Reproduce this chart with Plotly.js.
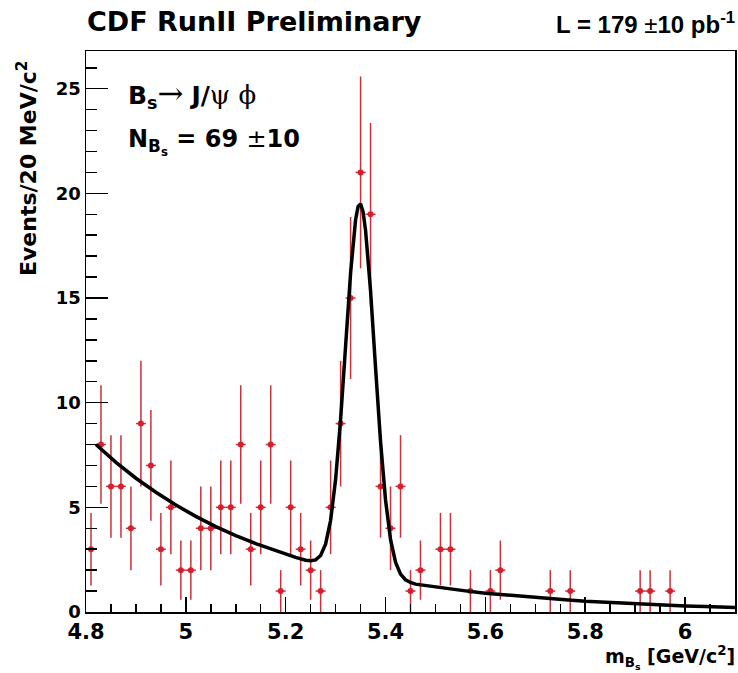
<!DOCTYPE html>
<html>
<head>
<meta charset="utf-8">
<script src="https://cdn.plot.ly/plotly-3.0.1.min.js"></script>
<style>html,body{margin:0;padding:0;background:#fff;}#chart{width:738px;height:673px;}</style>
</head>
<body>
<div id="chart"></div>
<script>
// Histogram bins (20 MeV), non-empty bins only
const binCenters = [4.81,4.83,4.85,4.87,4.89,4.91,4.93,4.95,4.97,4.99,5.01,5.03,5.05,5.07,5.09,5.11,5.13,5.15,5.17,5.19,5.21,5.23,5.25,5.27,5.29,5.31,5.33,5.35,5.37,5.39,5.41,5.43,5.45,5.47,5.51,5.53,5.57,5.61,5.63,5.73,5.77,5.91,5.93,5.97];
const counts     = [3,8,6,6,4,9,7,3,5,2,2,4,4,5,5,8,3,5,8,1,5,3,2,1,5,9,15,21,19,6,4,6,1,2,3,3,1,1,2,1,1,1,1,1];

// Fit curve
const fitX = [4.82,4.86,4.90,4.94,4.98,5.02,5.06,5.10,5.14,5.18,5.22,5.24,5.25,5.26,5.27,5.28,5.29,5.30,5.31,5.32,5.33,5.34,5.345,5.35,5.355,5.36,5.37,5.38,5.39,5.40,5.41,5.42,5.43,5.44,5.45,5.46,5.48,5.52,5.56,5.60,5.64,5.68,5.72,5.76,5.80,5.84,5.88,5.92,5.96,6.00,6.04,6.08,6.10];
const fitY = [8.00,7.15,6.39,5.72,5.11,4.57,4.08,3.65,3.27,2.92,2.61,2.47,2.45,2.49,2.70,3.25,4.38,6.34,9.20,12.70,16.20,18.74,19.37,19.50,19.12,18.23,15.34,11.67,8.14,5.35,3.47,2.38,1.81,1.54,1.41,1.33,1.26,1.13,1.01,0.90,0.81,0.72,0.64,0.58,0.51,0.46,0.41,0.37,0.33,0.29,0.26,0.235,0.22];

const xTickVals = [4.8,5.0,5.2,5.4,5.6,5.8,6.0];
const xTickText = ["4.8","5","5.2","5.4","5.6","5.8","6"];
const yTickVals = [0,5,10,15,20,25];
const yTickText = ["0","5","10","15","20","25"];

const WIDE = "DejaVu Sans, Verdana, sans-serif";
const ARIAL = "Liberation Sans, Arial, Helvetica, sans-serif";
const ARROW = '<span style="font-family:DejaVu Serif;font-weight:normal;font-size:31px">';
const SYM = '<span style="font-family:DejaVu Serif;font-weight:normal;font-size:26px">';

const data = [
  {
    type: 'scatter', mode: 'markers',
    x: binCenters, y: counts,
    marker: {color: '#d81e2c', size: 6, symbol: 'circle'},
    error_y: {type: 'sqrt', color: '#c8323a', thickness: 1.5, width: 0},
    error_x: {type: 'constant', value: 0.01, color: '#c8323a', thickness: 1.5, width: 0},
    hoverinfo: 'x+y', showlegend: false
  },
  {
    type: 'scatter', mode: 'lines',
    x: fitX, y: fitY,
    line: {color: '#000000', width: 3.5},
    hoverinfo: 'skip', showlegend: false
  }
];

const layout = {
  width: 738, height: 673,
  margin: {l: 86, r: 3, t: 51, b: 61, pad: 0},
  paper_bgcolor: '#ffffff', plot_bgcolor: '#ffffff',
  font: {family: WIDE, color: '#000'},
  title: {
    text: '<b>CDF RunII Preliminary</b>',
    font: {family: WIDE, size: 27, color: '#000'},
    x: 87/738, xanchor: 'left', xref: 'container',
    y: 1 - 22/673, yanchor: 'middle', yref: 'container'
  },
  xaxis: {
    range: [4.8, 6.1], showgrid: false, zeroline: false,
    showline: true, linecolor: '#000', linewidth: 1.5, mirror: true,
    ticks: 'inside', ticklen: 15, tickwidth: 1.5, tickcolor: '#000',
    tickmode: 'array', tickvals: xTickVals, ticktext: xTickText,
    tickfont: {family: WIDE, size: 21, weight: 'bold', color: '#000'},
    minor: {dtick: 0.05, tick0: 4.8, ticklen: 8, tickwidth: 1.5, tickcolor: '#000', ticks: 'inside', showgrid: false}
  },
  yaxis: {
    range: [0, 26.8], showgrid: false, zeroline: false,
    showline: true, linecolor: '#000', linewidth: 1.5, mirror: true,
    ticks: 'inside', ticklen: 22, tickwidth: 1.5, tickcolor: '#000',
    tickmode: 'array', tickvals: yTickVals, ticktext: yTickText,
    tickfont: {family: WIDE, size: 18, weight: 'bold', color: '#000'},
    minor: {dtick: 1, tick0: 0, ticklen: 11, tickwidth: 1.5, tickcolor: '#000', ticks: 'inside', showgrid: false}
  },
  annotations: [
    {
      text: '<b>L = 179 </b>±<b>10 pb<sup>-1</sup></b>',
      xref: 'paper', yref: 'paper', x: 1.003, y: (612-23)/561, xanchor: 'right', yanchor: 'middle',
      showarrow: false, font: {family: ARIAL, size: 24, color: '#000'}
    },
    {
      text: '<b>B<sub>s</sub></b>' + ARROW + '→</span> <b>J/</b>' + SYM + 'ψ ϕ</span>',
      xref: 'paper', yref: 'paper', x: (126-86)/649, y: (612-94)/561, xanchor: 'left', yanchor: 'middle',
      showarrow: false, font: {family: WIDE, size: 25, color: '#000'}
    },
    {
      text: '<b>N<sub>B<sub>s</sub></sub> = 69 </b>±<b>10</b>',
      xref: 'paper', yref: 'paper', x: (126-86)/649, y: (612-142)/561, xanchor: 'left', yanchor: 'middle',
      showarrow: false, font: {family: WIDE, size: 24, color: '#000'}
    },
    {
      text: '<b>Events/20 MeV/c<sup>2</sup></b>',
      xref: 'paper', yref: 'paper', x: (27-86)/649, y: (612-58)/561, xanchor: 'center', yanchor: 'top',
      textangle: -90, showarrow: false, font: {family: WIDE, size: 22, color: '#000'}
    },
    {
      text: '<b>m<sub>B<sub>s</sub></sub> [GeV/c<sup>2</sup>]</b>',
      xref: 'paper', yref: 'paper', x: 1.003, y: (612-657)/561, xanchor: 'right', yanchor: 'middle',
      showarrow: false, font: {family: WIDE, size: 19, color: '#000'}
    }
  ]
};

Plotly.newPlot('chart', data, layout, {displayModeBar: false, staticPlot: true});
</script>
</body>
</html>
